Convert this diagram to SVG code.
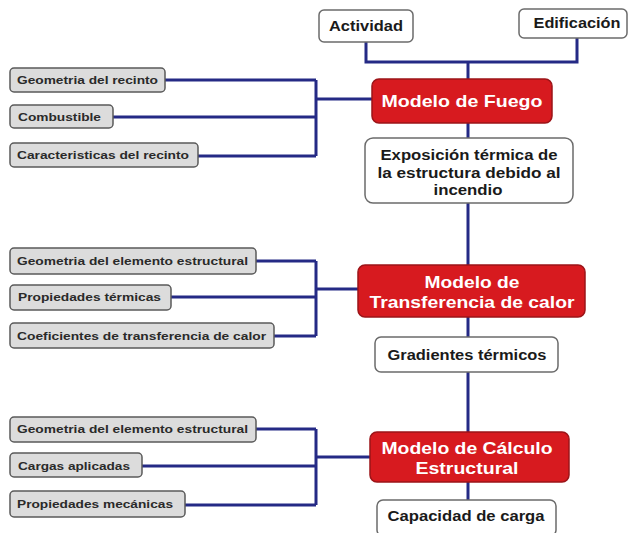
<svg xmlns="http://www.w3.org/2000/svg" width="633" height="533" viewBox="0 0 633 533">
<style>
.c{fill:none;stroke:#252a85;stroke-width:3;stroke-linejoin:miter}
.g{fill:#dcdcdc;stroke:#5a5a5a;stroke-width:1.5}
.w{fill:#fff;stroke:#6b6b6b;stroke-width:1.5}
.r{fill:#d71a1f;stroke:#9c1418;stroke-width:1.5}
.tg{font-family:"Liberation Sans",Arial,sans-serif;font-weight:bold;font-size:11px;fill:#2a2a2a}
.tw{font-family:"Liberation Sans",Arial,sans-serif;font-weight:bold;font-size:14px;fill:#1a1a1a;text-anchor:middle}
.tr{font-family:"Liberation Sans",Arial,sans-serif;font-weight:bold;font-size:17px;fill:#fff;text-anchor:middle}
</style>
<rect width="633" height="533" fill="#fff"/>
<g id="connectors">
<path class="c" d="M366 42V62H577V38M468 62V80"/>
<path class="c" d="M165 80H316M113 117H316M198 156H316M316 80V156M316 99H372"/>
<path class="c" d="M468 123V139M468 203V265"/>
<path class="c" d="M256 261H316M171 297H316M274 336H316M316 261V336M316 289H358"/>
<path class="c" d="M468 317V337M468 372V432"/>
<path class="c" d="M256 429H316M142 466H316M185 505H316M316 429V505M316 457H370"/>
<path class="c" d="M468 482V500"/>
</g>
<g id="actividad"><rect class="w" x="319" y="10" width="94" height="32" rx="5"/><text class="tw" x="366" y="31" textLength="74" lengthAdjust="spacingAndGlyphs">Actividad</text></g>
<g id="edificacion"><rect class="w" x="519" y="9" width="108" height="29" rx="5"/><text class="tw" x="577" y="28" textLength="87" lengthAdjust="spacingAndGlyphs">Edificación</text></g>
<g id="fuego"><rect class="r" x="372" y="79" width="180" height="44" rx="7"/><text class="tr" x="462" y="107" textLength="161" lengthAdjust="spacingAndGlyphs">Modelo de Fuego</text></g>
<g id="geom1"><rect class="g" x="10" y="68" width="155" height="24" rx="4"/><text class="tg" x="17" y="84" textLength="141" lengthAdjust="spacingAndGlyphs">Geometria del recinto</text></g>
<g id="combustible"><rect class="g" x="10" y="105" width="103" height="23" rx="4"/><text class="tg" x="18" y="121" textLength="83" lengthAdjust="spacingAndGlyphs">Combustible</text></g>
<g id="caract"><rect class="g" x="10" y="143" width="188" height="24" rx="4"/><text class="tg" x="17" y="159" textLength="172" lengthAdjust="spacingAndGlyphs">Caracteristicas del recinto</text></g>
<g id="exposicion"><rect class="w" x="365" y="138" width="208" height="65" rx="8"/>
<text class="tw" x="469" y="160" textLength="177" lengthAdjust="spacingAndGlyphs">Exposición térmica de</text>
<text class="tw" x="469" y="178" textLength="183" lengthAdjust="spacingAndGlyphs">la estructura debido al</text>
<text class="tw" x="468" y="195" textLength="69" lengthAdjust="spacingAndGlyphs">incendio</text></g>
<g id="transferencia"><rect class="r" x="358" y="265" width="227" height="52" rx="7"/>
<text class="tr" x="472" y="288" textLength="95" lengthAdjust="spacingAndGlyphs">Modelo de</text>
<text class="tr" x="472" y="308" textLength="205" lengthAdjust="spacingAndGlyphs">Transferencia de calor</text></g>
<g id="geom2"><rect class="g" x="10" y="248" width="246" height="26" rx="4"/><text class="tg" x="17" y="265" textLength="231" lengthAdjust="spacingAndGlyphs">Geometria del elemento estructural</text></g>
<g id="proptermicas"><rect class="g" x="10" y="285" width="161" height="25" rx="4"/><text class="tg" x="18" y="301" textLength="143" lengthAdjust="spacingAndGlyphs">Propiedades térmicas</text></g>
<g id="coef"><rect class="g" x="10" y="323" width="264" height="25" rx="4"/><text class="tg" x="17" y="340" textLength="249" lengthAdjust="spacingAndGlyphs">Coeficientes de transferencia de calor</text></g>
<g id="gradientes"><rect class="w" x="375" y="337" width="183" height="35" rx="6"/><text class="tw" x="467" y="360" textLength="159" lengthAdjust="spacingAndGlyphs">Gradientes térmicos</text></g>
<g id="calculo"><rect class="r" x="370" y="432" width="199" height="50" rx="7"/>
<text class="tr" x="467" y="454" textLength="171" lengthAdjust="spacingAndGlyphs">Modelo de Cálculo</text>
<text class="tr" x="467" y="474" textLength="103" lengthAdjust="spacingAndGlyphs">Estructural</text></g>
<g id="geom3"><rect class="g" x="10" y="417" width="246" height="25" rx="4"/><text class="tg" x="17" y="433" textLength="231" lengthAdjust="spacingAndGlyphs">Geometria del elemento estructural</text></g>
<g id="cargas"><rect class="g" x="10" y="453" width="132" height="24" rx="4"/><text class="tg" x="18" y="470" textLength="112" lengthAdjust="spacingAndGlyphs">Cargas aplicadas</text></g>
<g id="propmec"><rect class="g" x="10" y="491" width="175" height="26" rx="4"/><text class="tg" x="17" y="508" textLength="156" lengthAdjust="spacingAndGlyphs">Propiedades mecánicas</text></g>
<g id="capacidad"><rect class="w" x="377" y="500" width="179" height="36" rx="6"/><text class="tw" x="466" y="521" textLength="157" lengthAdjust="spacingAndGlyphs">Capacidad de carga</text></g>
</svg>
